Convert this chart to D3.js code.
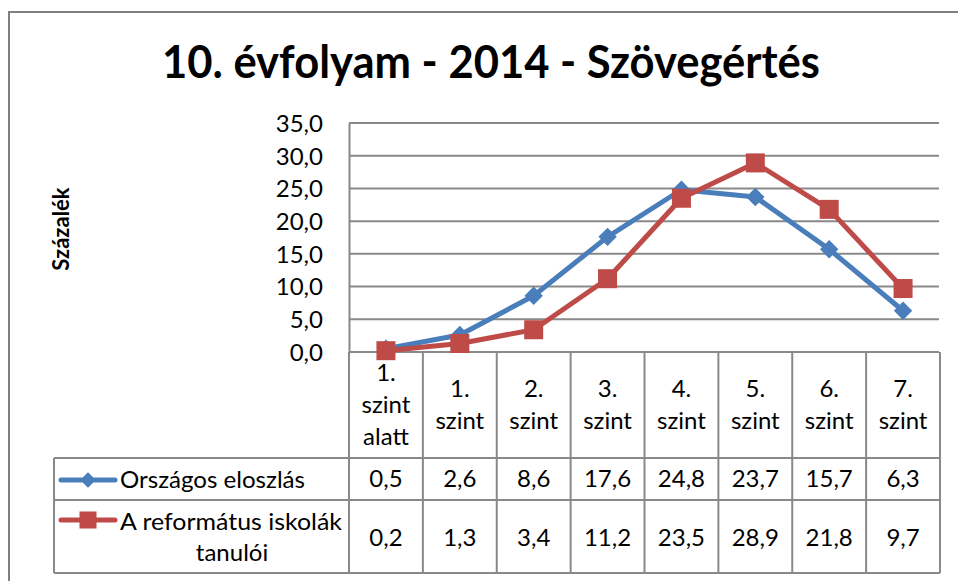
<!DOCTYPE html>
<html>
<head>
<meta charset="utf-8">
<script src="https://cdn.jsdelivr.net/npm/d3@7"></script>
<style>
  html, body { margin: 0; padding: 0; background: #fff; }
  svg { display: block; font-family: Lato, "Open Sans", sans-serif; }
</style>
</head>
<body>
<svg id="chart" width="958" height="581"></svg>
<script>
const title = "10. évfolyam - 2014 - Szövegértés";
const yAxisTitle = "Százalék";
const categories = [["1.", "szint", "alatt"], ["1.", "szint"], ["2.", "szint"], ["3.", "szint"], ["4.", "szint"], ["5.", "szint"], ["6.", "szint"], ["7.", "szint"]];
const seriesNames = [["Országos eloszlás"], ["A református iskolák", "tanulói"]];
const orszagos = [0.5, 2.6, 8.6, 17.6, 24.8, 23.7, 15.7, 6.3];
const reformatus = [0.2, 1.3, 3.4, 11.2, 23.5, 28.9, 21.8, 9.7];
const yTicks = [0, 5, 10, 15, 20, 25, 30, 35];
const colors = ["#4A7EBB", "#BE4B48"];

(function () {
const svg = d3.select("#chart");
const grid = "#898989";
const fs = 24;
const fmt = v => v.toFixed(1).replace(".", ",");

// outer border
svg.append("path").attr("d", "M9,581 V12 H958").attr("fill", "none").attr("stroke", "#808080").attr("stroke-width", 2);

// title
svg.append("text").attr("x", 491).attr("y", 78).attr("text-anchor", "middle")
  .attr("font-size", 45).attr("font-weight", 700).attr("fill", "#000")
  .attr("textLength", 658).attr("lengthAdjust", "spacingAndGlyphs").text(title);

const pLeft = 349, pRight = 940, pTop = 123, pBottom = 352;
const x = d3.scaleBand().domain(d3.range(categories.length)).range([pLeft, pRight]);
const y = d3.scaleLinear().domain([0, 35]).range([pBottom, pTop]);

// gridlines
svg.append("g").selectAll("line").data(yTicks).join("line")
  .attr("x1", pLeft).attr("x2", pRight - 1)
  .attr("y1", d => y(d)).attr("y2", d => y(d))
  .attr("stroke", grid).attr("stroke-width", 2);

// y axis
const yAxis = d3.axisLeft(y).tickValues(yTicks).tickFormat(fmt).tickSize(0).tickPadding(26);
const gy = svg.append("g").attr("transform", `translate(${pLeft},0)`).call(yAxis);
gy.select(".domain").attr("stroke", grid).attr("stroke-width", 2);
gy.selectAll("text").attr("font-size", fs).attr("font-family", "Lato, sans-serif").attr("fill", "#000").attr("dy", "0.35em");

// y axis title
svg.append("text").attr("transform", "translate(69,229) rotate(-90)").attr("text-anchor", "middle")
  .attr("font-size", 22).attr("font-weight", 700).attr("fill", "#000").text(yAxisTitle);

// data table
const tLeft = 54, r1 = 458, r2 = 500, r3 = 573;
const tg = svg.append("g").attr("stroke", grid).attr("stroke-width", 2);
[r1, r2, r3].forEach(yy => tg.append("line").attr("x1", tLeft).attr("x2", pRight).attr("y1", yy).attr("y2", yy));
tg.append("line").attr("x1", tLeft).attr("x2", tLeft).attr("y1", r1).attr("y2", r3);
d3.range(categories.length + 1).forEach(i => {
  const xx = i < categories.length ? x(i) : pRight;
  tg.append("line").attr("x1", xx).attr("x2", xx).attr("y1", pBottom).attr("y2", r3);
});

// header labels
categories.forEach((lines, i) => {
  const cx = x(i) + x.bandwidth() / 2;
  const sp = 32, mid = 413;
  lines.forEach((t, j) => {
    const yy = mid + (j - (lines.length - 1) / 2) * sp;
    svg.append("text").attr("x", cx).attr("y", yy).attr("text-anchor", "middle")
      .attr("font-size", fs).attr("fill", "#000").text(t);
  });
});

// values
[orszagos, reformatus].forEach((vals, s) => {
  const by = s === 0 ? 487 : 546;
  vals.forEach((v, i) => {
    svg.append("text").attr("x", x(i) + x.bandwidth() / 2).attr("y", by).attr("text-anchor", "middle")
      .attr("font-size", fs).attr("fill", "#000").text(fmt(v));
  });
});

function drawMarker(g, s, cx, cy, size) {
  const r = g.append("rect").attr("x", cx - size / 2).attr("y", cy - size / 2)
    .attr("width", size).attr("height", size).attr("fill", colors[s]);
  if (s === 0) r.attr("transform", `rotate(45,${cx},${cy})`);
}
const keyY = [480, 520];
seriesNames.forEach((lines, s) => {
  svg.append("line").attr("x1", 61).attr("x2", 115).attr("y1", keyY[s]).attr("y2", keyY[s])
    .attr("stroke", colors[s]).attr("stroke-width", 5).attr("stroke-linecap", "round");
  drawMarker(svg, s, 88, keyY[s], s === 0 ? 11 : 17);
  if (lines.length === 1) {
    svg.append("text").attr("x", 120).attr("y", 488).attr("font-size", fs).attr("fill", "#000")
      .attr("textLength", 185).attr("lengthAdjust", "spacingAndGlyphs").text(lines[0]);
  } else {
    svg.append("text").attr("x", 120).attr("y", 530).attr("font-size", fs).attr("fill", "#000")
      .attr("textLength", 222).attr("lengthAdjust", "spacingAndGlyphs").text(lines[0]);
    svg.append("text").attr("x", 232).attr("y", 561).attr("text-anchor", "middle").attr("font-size", fs).attr("fill", "#000").text(lines[1]);
  }
});

// lines + markers
const line = d3.line().x((d, i) => x(i) + x.bandwidth() / 2).y(d => y(d));
[orszagos, reformatus].forEach((vals, s) => {
  const g = svg.append("g");
  g.append("path").attr("d", line(vals)).attr("fill", "none").attr("stroke", colors[s])
    .attr("stroke-width", 5).attr("stroke-linejoin", "round");
  vals.forEach((v, i) => drawMarker(g, s, x(i) + x.bandwidth() / 2, y(v), s === 0 ? 13 : 19));
});
})();
</script>
</body>
</html>
